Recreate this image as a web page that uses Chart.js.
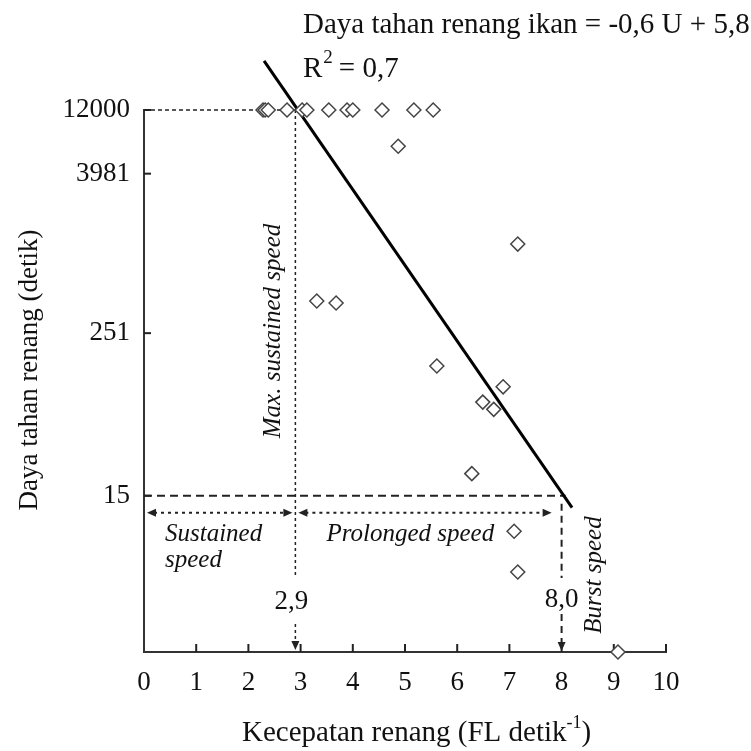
<!DOCTYPE html>
<html>
<head>
<meta charset="utf-8">
<script src="https://cdn.jsdelivr.net/npm/chart.js@4.4.1/dist/chart.umd.min.js"></script>
<style>
  html, body { margin: 0; padding: 0; background: #fff; }
  #wrap { width: 751px; height: 751px; }
</style>
</head>
<body>
<div id="wrap"><canvas id="chart"></canvas></div>
<script>
// swimming speed (FL/s) and how long each fish lasted (s)
const speeds = [2.28, 2.32, 2.38, 2.74, 3.03, 3.12, 3.54, 3.89, 4.00, 4.56, 5.17, 5.54,
    4.87, 7.16, 3.31, 3.68, 5.61, 6.88, 6.49, 6.70, 6.28, 7.09, 7.16, 9.08];
const endurance = [12000, 12000, 12000, 12000, 12000, 12000, 12000, 12000, 12000, 12000, 12000, 12000,
    6400, 1175, 438, 423, 142, 99, 76, 67, 22, 8.1, 4.0, 1];

// log10(endurance) = slope * U + intercept
const fitCoef = [-0.57, 5.76];
const fitRange = [2.3, 8.2];
const rSquared = 0.7;

// max sustained speed and burst threshold, with their endurance limits
const speedLimits = [2.9, 8.0];
const limitTimes = [12000, 15];

const yTickValues = [15, 251, 3981, 12000];

const serif = "'Liberation Serif', 'Times New Roman', serif";
const ink = '#111';

const comma = v => v.toFixed(1).replace('.', ',');

function dashed(ctx, x1, y1, x2, y2, dash, width) {
    ctx.save();
    ctx.setLineDash(dash);
    ctx.lineWidth = width;
    ctx.beginPath();
    ctx.moveTo(x1, y1);
    ctx.lineTo(x2, y2);
    ctx.stroke();
    ctx.restore();
}

function arrowHead(ctx, x, y, dir) {
    ctx.beginPath();
    if (dir === 'down') {
        ctx.moveTo(x, y); ctx.lineTo(x - 4, y - 9); ctx.lineTo(x + 4, y - 9);
    } else if (dir === 'right') {
        ctx.moveTo(x, y); ctx.lineTo(x - 9, y - 4); ctx.lineTo(x - 9, y + 4);
    } else {
        ctx.moveTo(x, y); ctx.lineTo(x + 9, y - 4); ctx.lineTo(x + 9, y + 4);
    }
    ctx.closePath();
    ctx.fill();
}

function rotatedText(ctx, text, x, y) {
    ctx.save();
    ctx.translate(x, y);
    ctx.rotate(-Math.PI / 2);
    ctx.fillText(text, 0, 0);
    ctx.restore();
}

const speedZones = {
    id: 'speedZones',
    beforeDatasetsDraw(chart) {
        const {ctx, chartArea, scales: {x, y}} = chart;
        const left = chartArea.left;
        const bottom = chartArea.bottom;
        const x29 = x.getPixelForValue(speedLimits[0]);
        const x80 = x.getPixelForValue(speedLimits[1]);
        const yTop = y.getPixelForValue(limitTimes[0]);
        const y15 = y.getPixelForValue(limitTimes[1]);
        const ya = y15 + 17;

        ctx.save();
        ctx.strokeStyle = '#222';
        ctx.fillStyle = '#222';

        // inward tick marks
        ctx.lineWidth = 2;
        x.ticks.forEach(t => {
            if (t.value === 0) return;
            const px = x.getPixelForValue(t.value);
            ctx.beginPath(); ctx.moveTo(px, bottom); ctx.lineTo(px, bottom - 8); ctx.stroke();
        });
        y.ticks.forEach(t => {
            const py = y.getPixelForValue(t.value);
            ctx.beginPath(); ctx.moveTo(left, py); ctx.lineTo(left + 7, py); ctx.stroke();
        });

        // max sustained speed
        dashed(ctx, left, yTop, x29, yTop, [4, 3], 1.5);
        dashed(ctx, x29, yTop, x29, bottom - 74, [3, 3], 1.5);
        dashed(ctx, x29, bottom - 28, x29, bottom - 8, [3, 3], 1.5);
        arrowHead(ctx, x29, bottom - 2, 'down');

        // burst threshold
        dashed(ctx, left, y15, x80 + 4, y15, [8, 5], 2);
        dashed(ctx, x80, y15 + 8, x80, bottom - 74, [7, 5], 2);
        dashed(ctx, x80, bottom - 38, x80, bottom - 8, [7, 5], 2);
        arrowHead(ctx, x80, bottom - 1, 'down');

        // zone arrows
        dashed(ctx, left + 10, ya, x29 - 10, ya, [3, 4], 2);
        arrowHead(ctx, left + 3, ya, 'left');
        arrowHead(ctx, x29 - 3, ya, 'right');
        dashed(ctx, x29 + 10, ya, x80 - 18, ya, [3, 4], 2);
        arrowHead(ctx, x29 + 3, ya, 'left');
        arrowHead(ctx, x80 - 10, ya, 'right');
        ctx.restore();
    },
    afterDraw(chart) {
        const {ctx, chartArea, scales: {x, y}} = chart;
        const left = chartArea.left;
        const bottom = chartArea.bottom;
        const x29 = x.getPixelForValue(speedLimits[0]);
        const x80 = x.getPixelForValue(speedLimits[1]);
        const ya = y.getPixelForValue(limitTimes[1]) + 17;

        ctx.save();
        ctx.fillStyle = ink;
        ctx.textBaseline = 'alphabetic';

        // zone names
        ctx.font = 'italic 25px ' + serif;
        ctx.textAlign = 'left';
        ctx.fillText('Sustained', left + 21, ya + 28);
        ctx.fillText('speed', left + 21, ya + 54);
        ctx.fillText('Prolonged speed', x29 + 31, ya + 28);
        ctx.textAlign = 'center';
        ctx.textBaseline = 'middle';
        rotatedText(ctx, 'Max. sustained speed', x29 - 22, 331);
        rotatedText(ctx, 'Burst speed', x80 + 33, 575);

        // limit values
        ctx.font = '27px ' + serif;
        ctx.fillText(comma(speedLimits[0]), x29 - 4, bottom - 50);
        ctx.fillText(comma(speedLimits[1]), x80, bottom - 52);

        // axis titles
        rotatedText(ctx, 'Daya tahan renang (detik)', 30, 370);
        ctx.textBaseline = 'alphabetic';
        ctx.textAlign = 'left';
        ctx.font = '29px ' + serif;
        const xt = 'Kecepatan renang (FL detik';
        let tx = 242;
        ctx.fillText(xt, tx, 741);
        tx += ctx.measureText(xt).width;
        ctx.font = '18px ' + serif;
        ctx.fillText('-1', tx, 728);
        tx += ctx.measureText('-1').width;
        ctx.font = '29px ' + serif;
        ctx.fillText(')', tx, 741);

        // regression equation
        ctx.font = '29px ' + serif;
        const eq = 'Daya tahan renang ikan = ' + comma(fitCoef[0]) + ' U + ' + comma(fitCoef[1]);
        ctx.fillText(eq, 303, 33);
        ctx.fillText('R', 303, 77);
        let rx = 303 + ctx.measureText('R').width + 1;
        ctx.font = '19px ' + serif;
        ctx.fillText('2', rx, 63);
        rx += ctx.measureText('2').width + 6;
        ctx.font = '29px ' + serif;
        ctx.fillText('= ' + comma(rSquared), rx, 77);
        ctx.restore();
    }
};

const fitLine = fitRange.map(u => ({x: u, y: Math.pow(10, fitCoef[0] * u + fitCoef[1])}));

new Chart(document.getElementById('chart'), {
    type: 'scatter',
    data: {
        datasets: [{
            label: 'Regresi',
            type: 'line',
            data: fitLine,
            borderColor: '#000',
            borderWidth: 3,
            pointRadius: 0,
            clip: false,
            order: 2
        }, {
            label: 'Ikan',
            data: speeds.map((s, i) => ({x: s, y: endurance[i]})),
            pointStyle: 'rectRot',
            pointRadius: 7,
            pointBackgroundColor: '#fff',
            pointBorderColor: '#444',
            pointBorderWidth: 1.5,
            clip: false,
            order: 1
        }]
    },
    options: {
        responsive: true,
        maintainAspectRatio: false,
        animation: false,
        layout: {
            padding: {top: 110, right: 85, left: 0, bottom: 0}
        },
        scales: {
            x: {
                type: 'linear',
                min: 0,
                max: 10,
                afterFit: scale => { scale.height = 99; },
                ticks: {
                    stepSize: 1,
                    color: ink,
                    padding: 15,
                    font: {family: serif, size: 27}
                },
                grid: {display: false, drawTicks: false},
                border: {display: true, color: '#333', width: 2}
            },
            y: {
                type: 'logarithmic',
                min: 1,
                max: 12000,
                afterFit: scale => { scale.width = 144; },
                afterBuildTicks: scale => {
                    scale.ticks = yTickValues.map(v => ({value: v}));
                },
                ticks: {
                    autoSkip: false,
                    color: ink,
                    padding: 14,
                    font: {family: serif, size: 27},
                    callback: v => String(v)
                },
                grid: {display: false, drawTicks: false},
                border: {display: true, color: '#333', width: 2}
            }
        },
        plugins: {
            legend: {display: false},
            tooltip: {enabled: false}
        }
    },
    plugins: [speedZones]
});
</script>
</body>
</html>
